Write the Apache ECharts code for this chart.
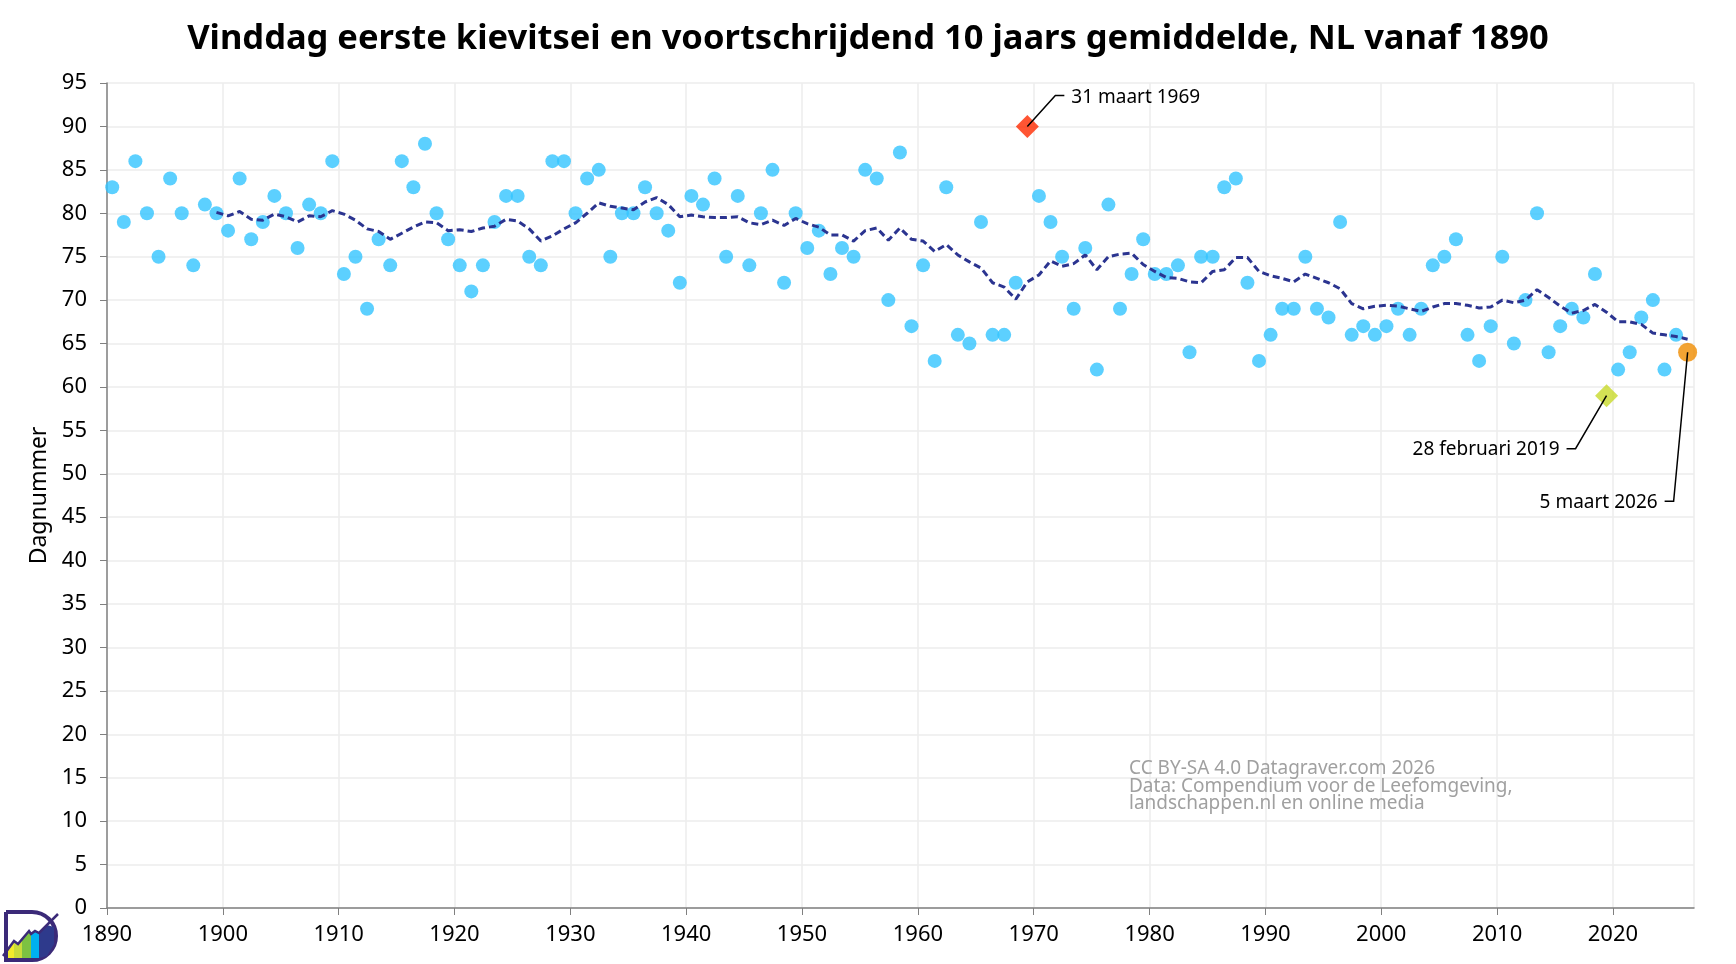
<!DOCTYPE html>
<html style="height: 100%">
<head>
    <meta charset="utf-8">
</head>
<body style="height: 100%; margin: 0">
<div id="container" style="width: 1736px; height: 964px"></div>

<script type="text/javascript" src="https://cdn.jsdelivr.net/npm/echarts@6/dist/echarts.min.js"></script>
<script type="text/javascript">
    // vinddag eerste kievitsei (dagnummer), per jaar vanaf 1890
    var firstYear = 1890;
    var dayNumbers = [
        83, 79, 86, 80, 75, 84, 80, 74, 81, 80,   // 1890
        78, 84, 77, 79, 82, 80, 76, 81, 80, 86,   // 1900
        73, 75, 69, 77, 74, 86, 83, 88, 80, 77,   // 1910
        74, 71, 74, 79, 82, 82, 75, 74, 86, 86,   // 1920
        80, 84, 85, 75, 80, 80, 83, 80, 78, 72,   // 1930
        82, 81, 84, 75, 82, 74, 80, 85, 72, 80,   // 1940
        76, 78, 73, 76, 75, 85, 84, 70, 87, 67,   // 1950
        74, 63, 83, 66, 65, 79, 66, 66, 72, 90,   // 1960
        82, 79, 75, 69, 76, 62, 81, 69, 73, 77,   // 1970
        73, 73, 74, 64, 75, 75, 83, 84, 72, 63,   // 1980
        66, 69, 69, 75, 69, 68, 79, 66, 67, 66,   // 1990
        67, 69, 66, 69, 74, 75, 77, 66, 63, 67,   // 2000
        75, 65, 70, 80, 64, 67, 69, 68, 73, 59,   // 2010
        62, 64, 68, 70, 62, 66, 64                // 2020
    ];

    var avgFirstYear = 1899;
    var movingAvg = [
        80.1,                                                   // 1899
        79.7, 80.2, 79.3, 79.2, 79.9, 79.6, 79.0, 79.7, 79.6, 80.3,   // 1900
        79.9, 79.2, 78.2, 77.9, 77.0, 77.7, 78.4, 79.0, 78.9, 78.0,   // 1910
        78.1, 77.9, 78.3, 78.5, 79.3, 79.1, 78.2, 76.8, 77.4, 78.2,   // 1920
        78.9, 80.0, 81.2, 80.8, 80.6, 80.4, 81.3, 81.8, 81.0, 79.6,   // 1930
        79.8, 79.6, 79.5, 79.5, 79.6, 78.9, 78.7, 79.2, 78.6, 79.4,   // 1940
        78.8, 78.4, 77.5, 77.5, 76.8, 78.0, 78.3, 76.9, 78.3, 77.0,   // 1950
        76.8, 75.6, 76.4, 75.2, 74.4, 73.7, 72.0, 71.5, 70.1, 72.1,   // 1960
        72.9, 74.5, 73.9, 74.2, 75.2, 73.5, 75.0, 75.3, 75.4, 74.1,   // 1970
        73.3, 72.6, 72.5, 72.1, 72.0, 73.3, 73.5, 74.9, 74.9, 73.3,   // 1980
        72.8, 72.5, 72.1, 73.0, 72.5, 72.0, 71.3, 69.6, 69.0, 69.3,   // 1990
        69.4, 69.3, 69.0, 68.7, 69.2, 69.6, 69.6, 69.4, 69.1, 69.2,   // 2000
        70.0, 69.7, 70.0, 71.2, 70.3, 69.3, 68.5, 68.8, 69.5, 68.6,   // 2010
        67.5, 67.5, 67.2, 66.2, 66.0, 65.8, 65.5                      // 2020
    ];

    var lateYear = 1969, lateLabel = '31 maart 1969';
    var earlyYear = 2019, earlyLabel = '28 februari 2019';
    var lastYear = 2026, lastLabel = '5 maart 2026';

    var yearTicks = [1890, 2027, 10];   // min, max, interval
    var dayTicks = [0, 95, 5];

    // punten staan midden in het jaar
    var mid = 0.45;

    var dom = document.getElementById("container");
    var myChart = echarts.init(dom);
    var font = 'Noto Sans';

    var normal = [], late = [], early = [], last = [];
    dayNumbers.forEach(function (d, i) {
        var y = firstYear + i;
        var pt = [y + mid, d];
        if (y === lateYear) late.push(pt);
        else if (y === earlyYear) early.push(pt);
        else if (y === lastYear) last.push(pt);
        else normal.push(pt);
    });
    var avgLine = movingAvg.map(function (v, i) {
        return [avgFirstYear + i + mid, v];
    });

    var option = {
        backgroundColor: '#ffffff',
        animation: false,
        textStyle: { fontFamily: font },
        title: {
            text: 'Vinddag eerste kievitsei en voortschrijdend 10 jaars gemiddelde, NL vanaf 1890',
            left: 'center',
            top: 17,
            textStyle: { fontFamily: font, fontSize: 34.5, fontWeight: 'bold', color: '#000' }
        },
        grid: { left: 107, right: 42, top: 83, bottom: 56 },
        xAxis: {
            type: 'value',
            min: yearTicks[0], max: yearTicks[1], interval: yearTicks[2],
            axisLine: { show: true, lineStyle: { color: '#808080', width: 1.5 } },
            axisTick: { show: true, length: 7, lineStyle: { color: '#808080' } },
            axisLabel: { color: '#000', fontSize: 22, margin: 16, showMaxLabel: false,
                         formatter: function (v) { return String(v); } },
            splitLine: { show: true, lineStyle: { color: '#ececec', width: 1.5 } }
        },
        yAxis: {
            type: 'value',
            min: dayTicks[0], max: dayTicks[1], interval: dayTicks[2],
            name: 'Dagnummer',
            nameLocation: 'middle',
            nameRotate: 90,
            nameGap: 56,
            nameTextStyle: { color: '#000', fontSize: 23 },
            axisLine: { show: true, lineStyle: { color: '#808080', width: 1.5 } },
            axisTick: { show: true, length: 7, lineStyle: { color: '#808080' } },
            axisLabel: { color: '#000', fontSize: 22, margin: 20 },
            splitLine: { show: true, lineStyle: { color: '#ececec', width: 1.5 } }
        },
        series: [
            {
                name: 'kievitsei',
                type: 'scatter',
                data: normal,
                symbolSize: 14,
                itemStyle: { color: '#33c4ff' },
                z: 2
            },
            {
                name: 'gemiddelde',
                type: 'line',
                data: avgLine,
                showSymbol: false,
                lineStyle: { color: '#2b3490', width: 3, type: [7, 4] },
                z: 3
            },
            {
                name: 'laatste',
                type: 'scatter',
                data: late,
                symbol: 'diamond',
                symbolSize: [23, 23],
                itemStyle: { color: '#ff2a00' },
                z: 4
            },
            {
                name: 'vroegste',
                type: 'scatter',
                data: early,
                symbol: 'diamond',
                symbolSize: [23, 23],
                itemStyle: { color: '#c8d92b' },
                z: 4
            },
            {
                name: 'nu',
                type: 'scatter',
                data: last,
                symbolSize: 19,
                itemStyle: { color: '#f08c00' },
                z: 4
            }
        ]
    };
    myChart.setOption(option);

    // annotaties met aanwijslijntjes
    function px(pt) { return myChart.convertToPixel({ gridIndex: 0 }, pt); }
    var pL = px(late[0]), pE = px(early[0]), pN = px(last[0]);
    var lineStyle = { stroke: '#000', lineWidth: 1.5, fill: null };
    var lblStyle = { fontFamily: font, fontSize: 19, fill: '#000' };

    function label(x, y, text, align) {
        return { type: 'text', z: 10, x: x, y: y,
                 style: Object.assign({ text: text, align: align, verticalAlign: 'middle' }, lblStyle) };
    }
    function leader(p, dx, dy, tail) {
        return { type: 'polyline', z: 10,
                 shape: { points: [[p[0], p[1]], [p[0] + dx, p[1] + dy], [p[0] + dx + tail, p[1] + dy]] },
                 style: lineStyle };
    }

    var graphics = [
        leader(pL, 28, -31, 9),
        label(pL[0] + 44, pL[1] - 29, lateLabel, 'left'),
        leader(pE, -31, 53, -9),
        label(pE[0] - 47, pE[1] + 54, earlyLabel, 'right'),
        leader(pN, -14, 149, -9),
        label(pN[0] - 30, pN[1] + 150, lastLabel, 'right'),
        // bronvermelding
        { type: 'text', z: 10, x: 1129, y: 760,
          style: { text: 'CC BY-SA 4.0 Datagraver.com 2026\nData: Compendium voor de Leefomgeving,\nlandschappen.nl en online media',
                   fontFamily: font, fontSize: 19, lineHeight: 17.5, fill: '#a0a0a0' } },
        // logo
        { type: 'group', x: 3, y: 910, children: [
            { type: 'rect', shape: { x: 3, y: 2, width: 50, height: 48, r: [0, 24, 24, 0] },
              style: { fill: '#fff', stroke: '#3b2a78', lineWidth: 4 } },
            { type: 'polygon', shape: { points: [[5, 38], [11, 31], [11, 48], [5, 48]] }, style: { fill: '#f2ec2b' } },
            { type: 'polygon', shape: { points: [[11, 31], [15, 34], [19, 29], [19, 48], [11, 48]] }, style: { fill: '#c9dc3a' } },
            { type: 'polygon', shape: { points: [[19, 29], [26, 21], [28, 24], [28, 48], [19, 48]] }, style: { fill: '#7dc242' } },
            { type: 'polygon', shape: { points: [[28, 24], [32, 21], [36, 23], [36, 48], [28, 48]] }, style: { fill: '#00b0f0' } },
            { type: 'polygon', shape: { points: [[36, 23], [44, 15], [51, 17], [51, 34], [44, 46], [36, 48]] }, style: { fill: '#2e3a8c' } },
            { type: 'polyline', shape: { points: [[0, 46], [11, 31], [15, 34], [26, 21], [28, 24], [32, 21], [36, 23], [55, 4]] },
              style: { stroke: '#3b2a78', lineWidth: 2.5, fill: null } }
        ] }
    ];
    myChart.setOption({ graphic: graphics });
</script>
</body>
</html>
